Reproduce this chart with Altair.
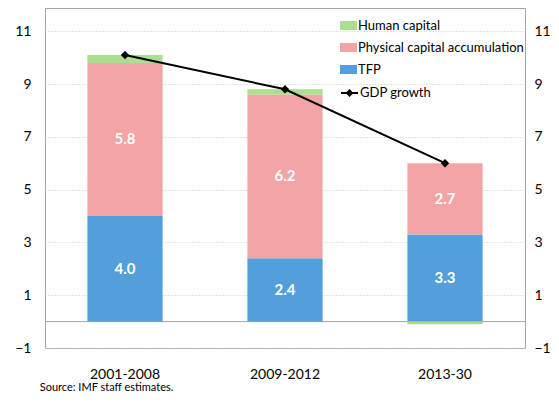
import altair as alt
import pandas as pd

categories = ["2001-2008", "2009-2012", "2013-30"]
tfp = [4.0, 2.4, 3.3]
physical = [5.8, 6.2, 2.7]
human = [0.3, 0.2, -0.1]
gdp = [10.1, 8.8, 6.0]

components = ["Human capital", "Physical capital accumulation", "TFP"]
colors = ["#A9DF8E", "#F2A5A4", "#529FDB"]
tick_vals = [-1, 1, 3, 5, 7, 9, 11]

FONT = "Lato"
Y_DOMAIN = [-1, 11.88]

rows = []
for i, c in enumerate(categories):
    rows.append({"cat": c, "comp": "TFP", "val": tfp[i], "ord": 0})
    rows.append({"cat": c, "comp": "Physical capital accumulation", "val": physical[i], "ord": 1})
    rows.append({"cat": c, "comp": "Human capital", "val": human[i], "ord": 2})
bars_df = pd.DataFrame(rows)

lab_rows = []
for i, c in enumerate(categories):
    lab_rows.append({"cat": c, "mid": tfp[i] / 2, "val": tfp[i]})
    lab_rows.append({"cat": c, "mid": tfp[i] + physical[i] / 2, "val": physical[i]})
labels_df = pd.DataFrame(lab_rows)

line_df = pd.DataFrame({"cat": categories, "gdp": gdp, "series": ["GDP growth"] * 3})

xenc = alt.X("cat:N", sort=categories, title=None,
             scale=alt.Scale(paddingInner=0.53, paddingOuter=0.265),
             axis=alt.Axis(labelAngle=0, ticks=False, domain=False, labelFontSize=14,
                           labelPadding=19, labelColor="#000000", labelFont=FONT))

yscale = alt.Scale(domain=Y_DOMAIN, nice=False, zero=False)

rule = alt.Chart(pd.DataFrame({"z": [0]})).mark_rule(color="#A6A6A6", strokeWidth=1).encode(
    y=alt.Y("z:Q", scale=yscale, axis=None)
)

bars = alt.Chart(bars_df).mark_bar().encode(
    x=xenc,
    y=alt.Y("val:Q", stack="zero", scale=yscale, title=None,
            axis=alt.Axis(values=tick_vals, orient="left", grid=True, gridDash=[1, 2],
                          gridColor="#C8C8C8", ticks=False, domain=False, labelFontSize=14,
                          labelPadding=14, labelColor="#000000", labelFont=FONT)),
    color=alt.Color("comp:N", scale=alt.Scale(domain=components, range=colors),
                    legend=alt.Legend(orient="none", legendX=295, legendY=9, title=None,
                                      symbolType="M-1,-0.53H1V0.53H-1Z", symbolSize=289,
                                      labelFontSize=13, labelFont=FONT, rowPadding=6,
                                      labelOffset=1, padding=0, symbolStrokeWidth=0,
                                      labelLimit=400, labelColor="#000000")),
    order=alt.Order("ord:Q"),
)

line = alt.Chart(line_df).mark_line(strokeWidth=2).encode(
    x=alt.X("cat:N", sort=categories),
    y=alt.Y("gdp:Q", scale=yscale, title=None,
            axis=alt.Axis(values=tick_vals, orient="right", grid=False, ticks=False, domain=False,
                          labelFontSize=14, labelPadding=9, labelColor="#000000", labelFont=FONT)),
    stroke=alt.Stroke("series:N", scale=alt.Scale(range=["#000000"]),
                      legend=alt.Legend(orient="none", legendX=295, legendY=75.5, title=None,
                                        symbolType="M-1,0H1M0,-0.3L0.3,0L0,0.3L-0.3,0Z",
                                        symbolSize=289, symbolFillColor="#000000",
                                        symbolStrokeWidth=2, labelFontSize=13, labelFont=FONT,
                                        labelOffset=1, padding=0, labelLimit=400,
                                        labelColor="#000000")),
)

points = alt.Chart(line_df).mark_point(shape="diamond", filled=True, color="#000000", size=70,
                                       opacity=1).encode(
    x=alt.X("cat:N", sort=categories),
    y=alt.Y("gdp:Q", scale=yscale, axis=None),
)

texts = alt.Chart(labels_df).mark_text(color="white", fontWeight="bold", fontSize=15,
                                       font=FONT).encode(
    x=alt.X("cat:N", sort=categories),
    y=alt.Y("mid:Q", scale=yscale, axis=None),
    text=alt.Text("val:Q", format=".1f"),
)

chart = alt.layer(rule, bars, line, points, texts).resolve_scale(
    y="independent"
).properties(
    width=480, height=340,
    autosize=alt.AutoSizeParams(type="none"),
    padding={"left": 37, "top": 0, "right": 26, "bottom": 46},
    title=alt.TitleParams("Source: IMF staff estimates.", orient="bottom", anchor="start",
                          fontSize=11, fontWeight="normal", font=FONT, color="#000000",
                          dx=25, offset=1),
).configure_view(stroke="#A6A6A6", strokeWidth=1)

chart.save("out.html", embed_options={"renderer": "svg", "actions": False})
